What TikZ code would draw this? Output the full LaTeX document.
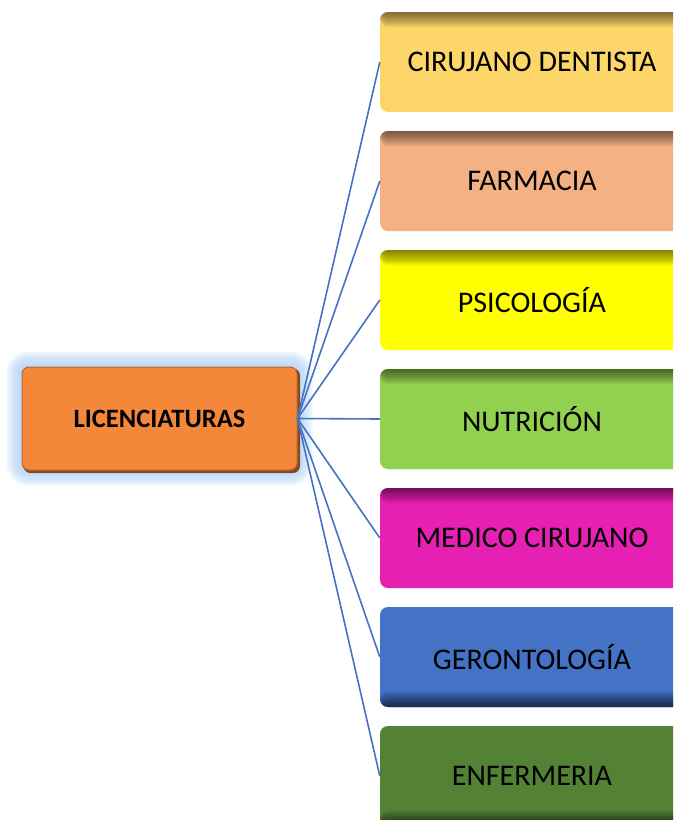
\documentclass[tikz,border=0pt]{standalone}
\usepackage{fontspec}
\setmainfont{Carlito}
\usetikzlibrary{backgrounds}

\definecolor{dentcol}{HTML}{FDD66A}
\definecolor{farmcol}{HTML}{F4B183}
\definecolor{psiccol}{HTML}{FFFF00}
\definecolor{nutrcol}{HTML}{92D050}
\definecolor{medicol}{HTML}{E620B2}
\definecolor{gerocol}{HTML}{4472C4}
\definecolor{enfecol}{HTML}{548235}
\definecolor{liccol}{HTML}{F5873A}
\definecolor{glowcol}{HTML}{A8CAF4}
\definecolor{linkcol}{HTML}{4472C4}

\tikzset{
  carrera/.style={rectangle, rounded corners=8pt, fill=#1,
    minimum width=304pt, minimum height=100pt, inner sep=0pt,
    font=\fontsize{30}{35}\selectfont},
  topshade/.style={path picture={
    \foreach \i in {1,...,14}
      \fill[black, opacity=0.045] (path picture bounding box.north west) rectangle
        ([yshift={-1.1*\i pt}]path picture bounding box.north east);}},
  botshade/.style={path picture={
    \foreach \i in {1,...,14}
      \fill[black, opacity=0.055] (path picture bounding box.south west) rectangle
        ([yshift={1.1*\i pt}]path picture bounding box.south east);}},
  linkline/.style={draw=linkcol, line width=1.6pt}
}

\begin{document}
\begin{tikzpicture}[x=1pt,y=-1pt]
  \useasboundingbox (0,0) rectangle (673,820);
  \clip (0,0) rectangle (673,820);

  % main node
  \node[rectangle, rounded corners=7pt, fill=liccol, draw=liccol!75!black,
        line width=1pt, minimum width=275pt, minimum height=103pt,
        font=\fontsize{26.5}{31}\selectfont\bfseries] (lic) at (159.5,418.5) {LICENCIATURAS};

  % careers
  \node[carrera=dentcol, topshade] (dent) at (532,62)  {CIRUJANO DENTISTA};
  \node[carrera=farmcol, topshade] (farm) at (532,181) {FARMACIA};
  \node[carrera=psiccol, topshade] (psic) at (532,300) {PSICOLOGÍA};
  \node[carrera=nutrcol, topshade] (nutr) at (532,419) {NUTRICIÓN};
  \node[carrera=medicol, topshade] (medi) at (532,538) {MEDICO CIRUJANO};
  \node[carrera=gerocol, botshade] (gero) at (532,657) {GERONTOLOGÍA};
  \node[carrera=enfecol, botshade] (enfe) at (532,776) {ENFERMERIA};

  % glow behind main node
  \begin{scope}[on background layer]
    \foreach \g/\r in {15/22,13/20,11/18,9/16,7/14,5/12,3/10} {
      \fill[glowcol, opacity=0.16, rounded corners=\r pt]
        ([shift={(-\g,-\g)}]lic.north west) rectangle ([shift={(\g,\g)}]lic.south east);
    }
    \fill[liccol!55!black, rounded corners=7pt]
      ([shift={(2,2)}]lic.north west) rectangle ([shift={(2.5,2.5)}]lic.south east);
  \end{scope}

  % links
  \foreach \t in {dent,farm,psic,nutr,medi,gero,enfe}
    \draw[linkline] (lic.east) -- (\t.west);
\end{tikzpicture}
\end{document}
